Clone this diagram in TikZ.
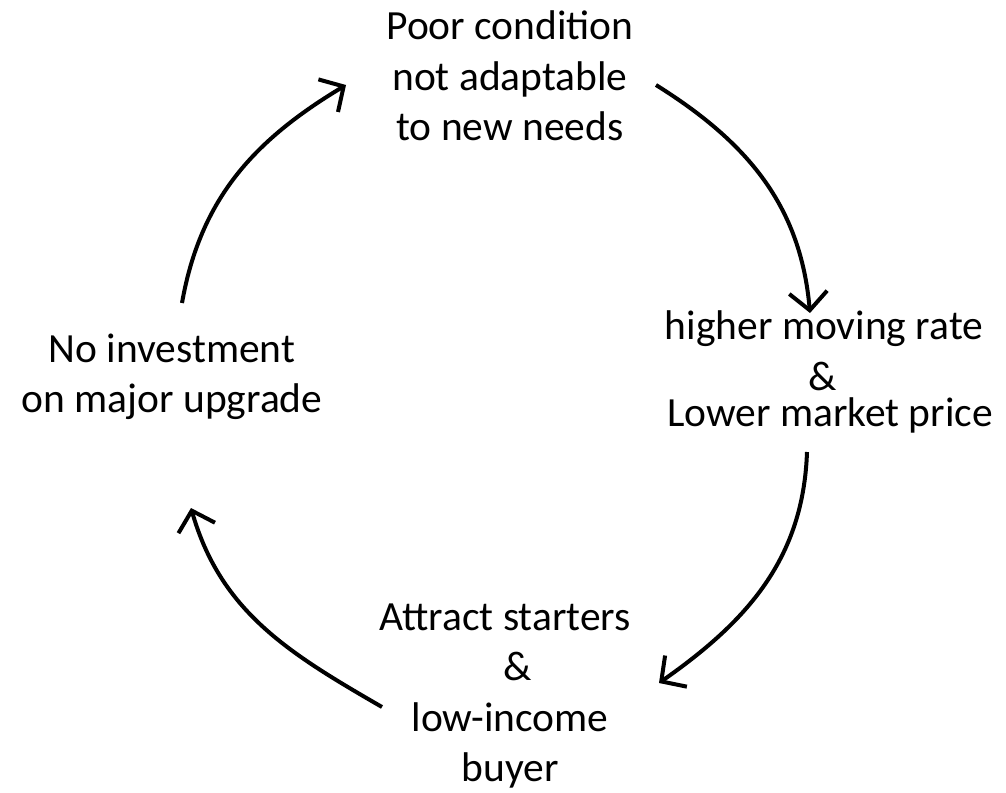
\documentclass[tikz,border=0pt]{standalone}
\usepackage{fontspec}
\setmainfont{Carlito}
\usetikzlibrary{arrows.meta}

\begin{document}
\begin{tikzpicture}[x=1pt, y=1pt,
    lbl/.style = {align=center, inner sep=0pt, font=\fontsize{41.5}{50.5}\selectfont},
    cyc/.style = {line width=4pt, -{Straight Barb[length=18pt, width=38pt]}}]
        \useasboundingbox (0,-792) rectangle (1006,0);
        \node[lbl] (poor) at (510,-76) {Poor condition\\not adaptable\\to new needs};
        \node[lbl] (moving) at (830,-372) {higher moving rate\kern12pt\\\&\kern14pt\\[-14pt]Lower market price};
        \node[lbl] (starters) at (510,-696) {Attract starters\kern10pt\\\kern16pt\&\\low-income\\buyer};
        \node[lbl] (noinvest) at (172,-377) {No investment\\on major upgrade};
        \coordinate (p1) at (182,-303);
        \coordinate (p2) at (346,-85);
        \coordinate (p3) at (656,-85);
        \coordinate (p4) at (810,-313);
        \coordinate (p5) at (807,-452);
        \coordinate (p6) at (659,-683);
        \coordinate (p7) at (382,-707);
        \coordinate (p8) at (191,-508);
        \draw[cyc] (p1) to[out=80, in=211] (p2);
        \draw[cyc] (p3) to[out=-32, in=95] (p4);
        \draw[cyc] (p5) to[out=-92, in=35] (p6);
        \draw[cyc] (p7) to[out=150, in=286] (p8);
    \end{tikzpicture}
\end{document}
